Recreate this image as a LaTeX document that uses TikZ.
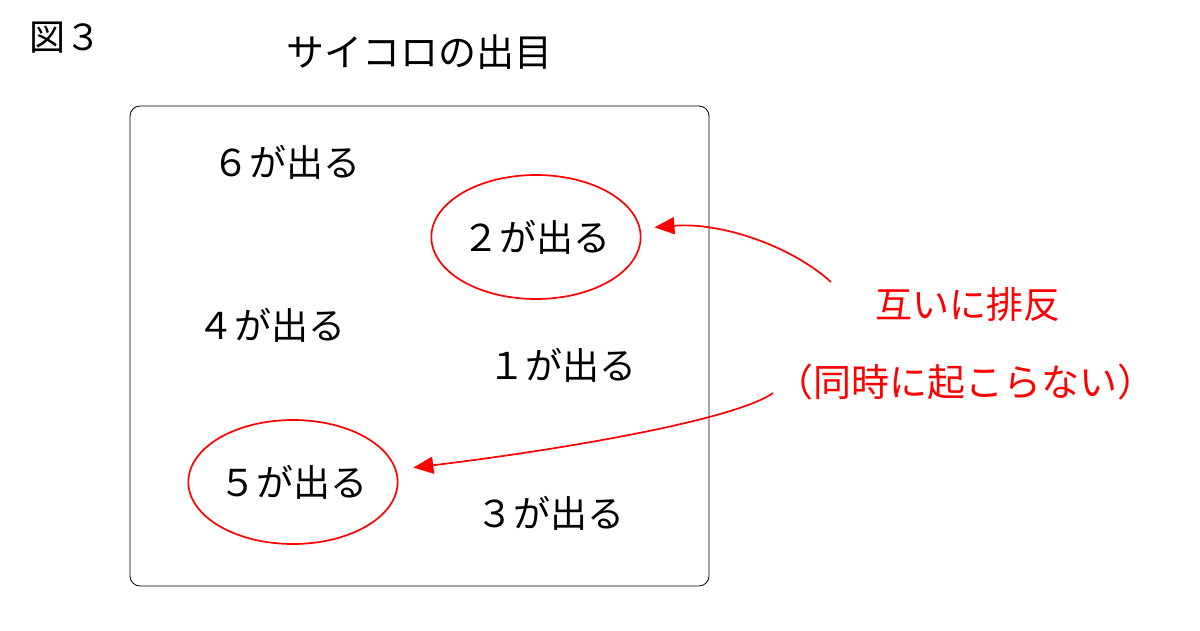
\documentclass[tikz,border=0pt]{standalone}
\usepackage{fontspec}
\setmainfont{Noto Sans CJK JP}
\usetikzlibrary{shapes.geometric,arrows.meta}
\definecolor{myred}{RGB}{255,0,0}
\tikzset{
  lbl/.style={font=\fontsize{37}{42}\selectfont, inner sep=0pt, text=black},
  redlbl/.style={font=\fontsize{37}{42}\selectfont, inner sep=0pt, text=myred},
  oval/.style={ellipse, draw=myred, line width=1.7pt, minimum width=204pt, minimum height=124pt, inner sep=0pt, font=\fontsize{37}{42}\selectfont},
  conn/.style={draw=myred, line width=1.7pt, -{Triangle[length=20pt,width=17pt]}}
}
\begin{document}
\begin{tikzpicture}[x=1pt,y=-1pt]
\useasboundingbox (0,0) rectangle (1200,630);
\node[lbl, font=\fontsize{36}{40}\selectfont] (fig) at (65,38) {図３};
\node[lbl, font=\fontsize{38}{44}\selectfont] (title) at (419,52) {サイコロの出目};
\node[draw, line width=0.8pt, rounded corners=10pt, minimum width=579pt, minimum height=480pt, inner sep=0pt] (box) at (419.5,346) {};
\node[lbl] (d6) at (286,162) {６が出る};
\node[oval] (e2) at (536,237) {２が出る};
\node[lbl] (d4) at (271,325) {４が出る};
\node[lbl] (d1) at (562,365) {１が出る};
\node[oval] (e5) at (293,482) {５が出る};
\node[lbl] (d3) at (550,513) {３が出る};
\node[redlbl] (mx) at (968,304) {互いに排反};
\node[redlbl, font=\fontsize{38}{44}\selectfont] (nc) at (965,382) {（同時に起こらない）};
\coordinate (a1) at (831,282);
\coordinate (a2) at (773,393);
\draw[conn, shorten >=14pt] (a1) .. controls (790,245) and (720,222) .. (e2);
\draw[conn, shorten >=17pt] (a2) .. controls (735,420) and (560,450) .. (e5);
\end{tikzpicture}
\end{document}
